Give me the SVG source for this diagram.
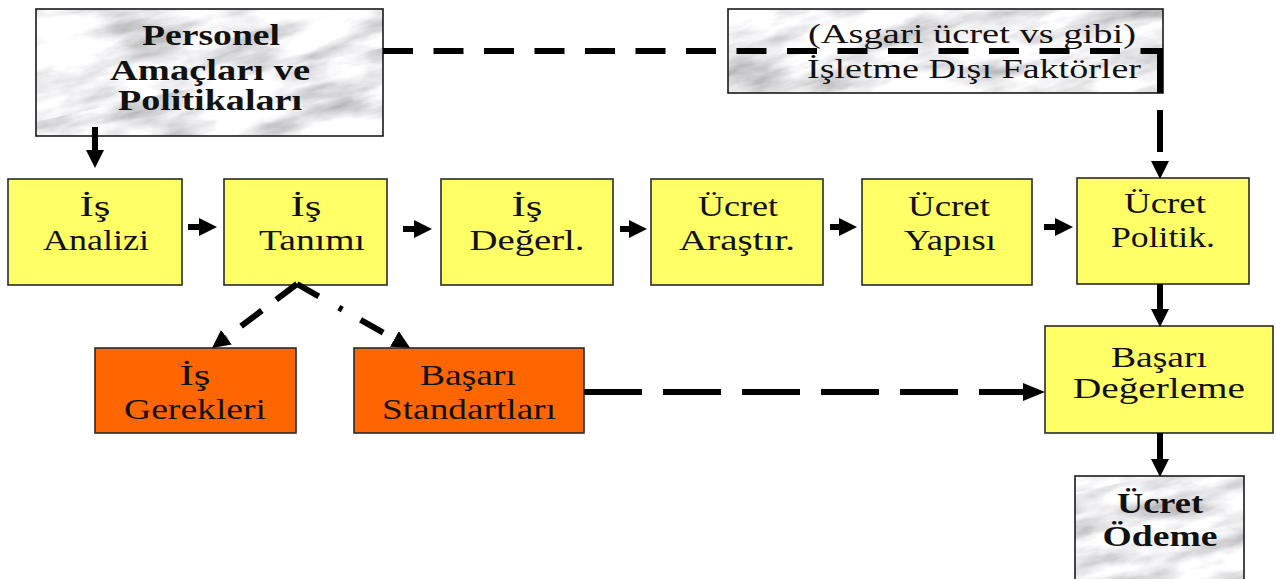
<svg xmlns="http://www.w3.org/2000/svg" width="1276" height="579" viewBox="0 0 1276 579">
  <style>
    .yellow { fill: #ffff66; stroke: #2a2a2a; stroke-width: 1.6; }
    .orange { fill: #ff6600; stroke: #2a2a2a; stroke-width: 1.6; }
    .marble { fill: url(#marblePat); stroke: #1a1a1a; stroke-width: 1.6; }
    text { font-family: "Liberation Serif", "DejaVu Serif", serif; fill: #111; text-anchor: middle; }
    .t  { font-size: 30px; }
    .tb { font-size: 30px; font-weight: bold; }
    .ts { font-size: 28px; }
    .solid { fill: none; stroke: #000; stroke-width: 6; }
    .dash  { fill: none; stroke: #000; stroke-width: 6; }
  </style>
  <defs>
    <!-- grey marble: stretched fractal noise mapped to light greys -->
    <filter id="marbleNoise" x="-400" y="-400" width="2200" height="1400" filterUnits="userSpaceOnUse">
      <feTurbulence type="fractalNoise" baseFrequency="0.012 0.045" numOctaves="5" seed="4" result="n"/>
      <feColorMatrix in="n" type="matrix" values="1.2 0 0 0 0.28  1.2 0 0 0 0.28  1.2 0 0 0 0.30  0 0 0 0 1"/>
    </filter>
    <pattern id="marblePat" patternUnits="userSpaceOnUse" x="0" y="0" width="1276" height="579" patternTransform="rotate(-12 638 290)">
      <rect x="-400" y="-400" width="2200" height="1400" fill="#ddd" filter="url(#marbleNoise)"/>
    </pattern>
    <marker id="head" markerUnits="userSpaceOnUse" viewBox="0 0 18 18" markerWidth="18" markerHeight="18" refX="0" refY="9" orient="auto">
      <path d="M0,0 L18,9 L0,18 z" fill="#000"/>
    </marker>
    <marker id="headL" markerUnits="userSpaceOnUse" viewBox="0 0 22 18" markerWidth="22" markerHeight="18" refX="0" refY="9" orient="auto">
      <path d="M0,0 L22,9 L0,18 z" fill="#000"/>
    </marker>
  </defs>

  <rect x="0" y="0" width="1276" height="579" fill="#fff"/>

  <!-- nodes -->
  <g id="personel">
    <rect class="marble" x="36" y="9" width="347" height="127"/>
    <text class="tb" x="211" y="45" textLength="138" lengthAdjust="spacingAndGlyphs">Personel</text>
    <text class="tb" x="210" y="80" textLength="200" lengthAdjust="spacingAndGlyphs">Amaçları ve</text>
    <text class="tb" x="210" y="110" textLength="184" lengthAdjust="spacingAndGlyphs">Politikaları</text>
  </g>

  <g id="dis-faktorler">
    <rect class="marble" x="728" y="9" width="435" height="84"/>
    <text class="ts" x="972" y="43" textLength="328" lengthAdjust="spacingAndGlyphs">(Asgari ücret vs gibi)</text>
    <text class="ts" x="974" y="78" textLength="334" lengthAdjust="spacingAndGlyphs">İşletme Dışı Faktörler</text>
  </g>

  <g id="is-analizi">
    <rect class="yellow" x="8" y="179" width="174" height="106"/>
    <text class="t" x="95" y="216" textLength="31" lengthAdjust="spacingAndGlyphs">İş</text>
    <text class="t" x="96" y="250" textLength="106" lengthAdjust="spacingAndGlyphs">Analizi</text>
  </g>

  <g id="is-tanimi">
    <rect class="yellow" x="224" y="179" width="163" height="106"/>
    <text class="t" x="306" y="216" textLength="31" lengthAdjust="spacingAndGlyphs">İş</text>
    <text class="t" x="312" y="250" textLength="106" lengthAdjust="spacingAndGlyphs">Tanımı</text>
  </g>

  <g id="is-degerl">
    <rect class="yellow" x="441" y="179" width="172" height="106"/>
    <text class="t" x="527" y="216" textLength="31" lengthAdjust="spacingAndGlyphs">İş</text>
    <text class="t" x="527" y="250" textLength="115" lengthAdjust="spacingAndGlyphs">Değerl.</text>
  </g>

  <g id="ucret-arastir">
    <rect class="yellow" x="651" y="179" width="172" height="106"/>
    <text class="t" x="738" y="216" textLength="80" lengthAdjust="spacingAndGlyphs">Ücret</text>
    <text class="t" x="737" y="250" textLength="116" lengthAdjust="spacingAndGlyphs">Araştır.</text>
  </g>

  <g id="ucret-yapisi">
    <rect class="yellow" x="862" y="179" width="170" height="106"/>
    <text class="t" x="949" y="216" textLength="82" lengthAdjust="spacingAndGlyphs">Ücret</text>
    <text class="t" x="950" y="250" textLength="92" lengthAdjust="spacingAndGlyphs">Yapısı</text>
  </g>

  <g id="ucret-politik">
    <rect class="yellow" x="1077" y="178" width="172" height="106"/>
    <text class="t" x="1165" y="213" textLength="82" lengthAdjust="spacingAndGlyphs">Ücret</text>
    <text class="t" x="1163" y="247" textLength="104" lengthAdjust="spacingAndGlyphs">Politik.</text>
  </g>

  <g id="is-gerekleri">
    <rect class="orange" x="95" y="348" width="201" height="85"/>
    <text class="t" x="195" y="385" textLength="31" lengthAdjust="spacingAndGlyphs">İş</text>
    <text class="t" x="195" y="419" textLength="142" lengthAdjust="spacingAndGlyphs">Gerekleri</text>
  </g>

  <g id="basari-standartlari">
    <rect class="orange" x="354" y="348" width="230" height="85"/>
    <text class="t" x="468" y="385" textLength="96" lengthAdjust="spacingAndGlyphs">Başarı</text>
    <text class="t" x="469" y="419" textLength="174" lengthAdjust="spacingAndGlyphs">Standartları</text>
  </g>

  <g id="basari-degerleme">
    <rect class="yellow" x="1045" y="326" width="228" height="107"/>
    <text class="t" x="1159" y="367" textLength="96" lengthAdjust="spacingAndGlyphs">Başarı</text>
    <text class="t" x="1159" y="398" textLength="172" lengthAdjust="spacingAndGlyphs">Değerleme</text>
  </g>

  <g id="ucret-odeme">
    <rect class="marble" x="1075" y="476" width="169" height="110"/>
    <text class="tb" x="1160" y="513" textLength="86" lengthAdjust="spacingAndGlyphs">Ücret</text>
    <text class="tb" x="1160" y="546" textLength="115" lengthAdjust="spacingAndGlyphs">Ödeme</text>
  </g>

  <!-- connectors (drawn over the boxes they cross) -->
  <g id="connectors">
    <!-- personnel goals -> job analysis -->
    <line class="solid" x1="95" y1="127" x2="95" y2="150" marker-end="url(#head)"/>
    <!-- main row -->
    <line class="solid" x1="188" y1="227" x2="199" y2="227" marker-end="url(#head)"/>
    <line class="solid" x1="403" y1="229" x2="414" y2="229" marker-end="url(#head)"/>
    <line class="solid" x1="620" y1="229" x2="629" y2="229" marker-end="url(#head)"/>
    <line class="solid" x1="830" y1="227" x2="839" y2="227" marker-end="url(#head)"/>
    <line class="solid" x1="1044" y1="227" x2="1055" y2="227" marker-end="url(#head)"/>
    <!-- pay policy -> performance appraisal -> payment -->
    <line class="solid" x1="1160" y1="284" x2="1160" y2="309" marker-end="url(#head)"/>
    <line class="solid" x1="1160" y1="433" x2="1160" y2="459" marker-end="url(#head)"/>
    <!-- personnel goals / external factors -> pay policy -->
    <path class="dash" d="M383,51 H1160" stroke-dasharray="30 20.5"/>
    <path class="dash" d="M1160,48 V93"/>
    <line class="solid" x1="1160" y1="110" x2="1160" y2="161" marker-end="url(#head)" stroke-dasharray="42 20"/>
    <!-- job description -> job requirements / performance standards -->
    <line class="dash" x1="297" y1="284" x2="226.4" y2="337.2" stroke-dasharray="26 18" marker-end="url(#head)"/>
    <line class="dash" x1="297" y1="284" x2="394.4" y2="339" stroke-dasharray="25 23 4 21 26 20" marker-end="url(#head)"/>
    <!-- performance standards -> performance appraisal -->
    <line class="dash" x1="584" y1="392" x2="1023" y2="392" stroke-dasharray="58 21" marker-end="url(#headL)"/>
  </g>
</svg>
